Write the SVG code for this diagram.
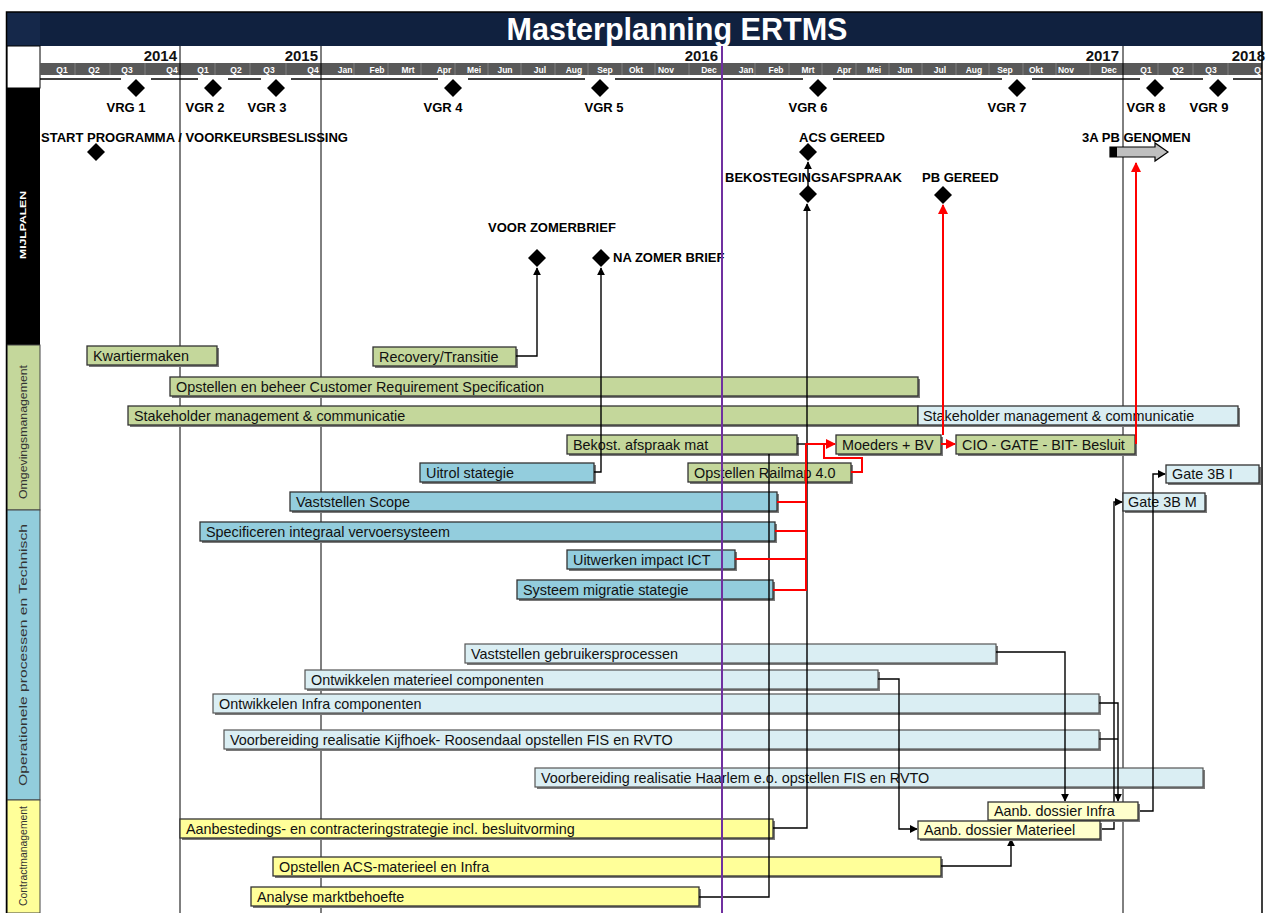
<svg xmlns="http://www.w3.org/2000/svg" width="1267" height="913" viewBox="0 0 1267 913">
<defs>
<style>
.bg{fill:#ffffff}
.bar rect.s{fill:#7a7a7a}
.bar text{font-family:"Liberation Sans",Arial,sans-serif;font-size:14.4px;fill:#111}
.g rect.f{fill:#c4d79b;stroke:#333;stroke-width:1.3}
.b rect.f{fill:#93cddd;stroke:#333;stroke-width:1.3}
.l rect.f{fill:#daeef3;stroke:#555;stroke-width:1.2}
.c rect.f{fill:#daeef3;stroke:#333;stroke-width:1.3}
.y rect.f{fill:#ffff99;stroke:#333;stroke-width:1.3}
.cr rect.f{fill:#ffffcc;stroke:#333;stroke-width:1.3}
.ms text{font-family:"Liberation Sans",Arial,sans-serif;font-weight:bold;font-size:13px;fill:#000}
.dia{fill:#000}
.mon{font-family:"Liberation Sans",Arial,sans-serif;font-weight:bold;font-size:8.5px;fill:#fff;text-anchor:middle}
.yr{font-family:"Liberation Sans",Arial,sans-serif;font-weight:bold;font-size:15px;fill:#111;text-anchor:end}
.lane{font-family:"Liberation Sans",Arial,sans-serif;font-size:11.5px;fill:#333;text-anchor:middle}
.k{fill:none;stroke:#000;stroke-width:1.4}
.r{fill:none;stroke:#ff0000;stroke-width:2}
.grid{stroke:#000;stroke-width:1}
.sep{stroke:#8a8a8a;stroke-width:0.8}
</style>
<marker id="ak" viewBox="0 0 10 10" refX="9" refY="5" markerWidth="8" markerHeight="8" orient="auto" markerUnits="userSpaceOnUse"><path d="M0,0 L10,5 L0,10 z" fill="#000"/></marker>
<marker id="ar" viewBox="0 0 10 10" refX="9" refY="5" markerWidth="10" markerHeight="10" orient="auto" markerUnits="userSpaceOnUse"><path d="M0,0 L10,5 L0,10 z" fill="#ff0000"/></marker>
</defs>

<rect class="bg" x="0" y="0" width="1267" height="913"/>

<!-- header -->
<g id="header">
<rect x="6" y="12" width="1256" height="34" fill="#10213f"/>
<rect x="6" y="12" width="34" height="34" fill="#15284a"/>
<text x="677" y="40" text-anchor="middle" font-family="Liberation Sans, Arial, sans-serif" font-weight="bold" font-size="31" fill="#ffffff" textLength="341" lengthAdjust="spacingAndGlyphs">Masterplanning ERTMS</text>
</g>

<!-- lanes -->
<g id="lanes">
<rect x="7" y="46" width="33" height="42" fill="#fff" stroke="#000" stroke-width="1"/>
<rect x="7" y="88" width="33" height="257" fill="#000"/>
<rect x="7" y="345" width="33" height="165" fill="#c4d79b" stroke="#444" stroke-width="1"/>
<rect x="7" y="510" width="33" height="290" fill="#92cddc" stroke="#444" stroke-width="1"/>
<rect x="7" y="800" width="33" height="113" fill="#ffff99" stroke="#444" stroke-width="1"/>
<text class="lane" transform="translate(26,225) rotate(-90)" style="fill:#fff;font-weight:bold;font-size:9px" textLength="68" lengthAdjust="spacingAndGlyphs">MIJLPALEN</text>
<text class="lane" transform="translate(27,432) rotate(-90)" textLength="134" lengthAdjust="spacingAndGlyphs">Omgevingsmanagement</text>
<text class="lane" transform="translate(27,655) rotate(-90)" textLength="262" lengthAdjust="spacingAndGlyphs">Operationele processen en Technisch</text>
<text class="lane" transform="translate(27,856) rotate(-90)" textLength="100" lengthAdjust="spacingAndGlyphs">Contractmanagement</text>
</g>

<!-- timeline -->
<g id="timeline">
<rect x="40" y="63" width="1222" height="12" fill="#595959"/>
<g class="sep">
<line x1="75" y1="63" x2="75" y2="75"/><line x1="110" y1="63" x2="110" y2="75"/><line x1="145" y1="63" x2="145" y2="75"/>
<line x1="215" y1="63" x2="215" y2="75"/><line x1="250" y1="63" x2="250" y2="75"/><line x1="286" y1="63" x2="286" y2="75"/>
<line x1="354" y1="63" x2="354" y2="75"/><line x1="388" y1="63" x2="388" y2="75"/><line x1="421" y1="63" x2="421" y2="75"/><line x1="455" y1="63" x2="455" y2="75"/><line x1="488" y1="63" x2="488" y2="75"/><line x1="521" y1="63" x2="521" y2="75"/><line x1="555" y1="63" x2="555" y2="75"/><line x1="588" y1="63" x2="588" y2="75"/><line x1="622" y1="63" x2="622" y2="75"/><line x1="655" y1="63" x2="655" y2="75"/><line x1="689" y1="63" x2="689" y2="75"/>
<line x1="755" y1="63" x2="755" y2="75"/><line x1="789" y1="63" x2="789" y2="75"/><line x1="822" y1="63" x2="822" y2="75"/><line x1="856" y1="63" x2="856" y2="75"/><line x1="889" y1="63" x2="889" y2="75"/><line x1="922" y1="63" x2="922" y2="75"/><line x1="956" y1="63" x2="956" y2="75"/><line x1="989" y1="63" x2="989" y2="75"/><line x1="1023" y1="63" x2="1023" y2="75"/><line x1="1056" y1="63" x2="1056" y2="75"/><line x1="1090" y1="63" x2="1090" y2="75"/>
<line x1="1158" y1="63" x2="1158" y2="75"/><line x1="1193" y1="63" x2="1193" y2="75"/><line x1="1228" y1="63" x2="1228" y2="75"/>
</g>
<g>
<text class="mon" x="62" y="72.5">Q1</text><text class="mon" x="94" y="72.5">Q2</text><text class="mon" x="127" y="72.5">Q3</text><text class="mon" x="172" y="72.5">Q4</text>
<text class="mon" x="203" y="72.5">Q1</text><text class="mon" x="236" y="72.5">Q2</text><text class="mon" x="269" y="72.5">Q3</text><text class="mon" x="313" y="72.5">Q4</text>
<text class="mon" x="345" y="72.5">Jan</text><text class="mon" x="377" y="72.5">Feb</text><text class="mon" x="408" y="72.5">Mrt</text><text class="mon" x="444" y="72.5">Apr</text><text class="mon" x="474" y="72.5">Mei</text><text class="mon" x="505" y="72.5">Jun</text><text class="mon" x="540" y="72.5">Jul</text><text class="mon" x="574" y="72.5">Aug</text><text class="mon" x="605" y="72.5">Sep</text><text class="mon" x="636" y="72.5">Okt</text><text class="mon" x="666" y="72.5">Nov</text><text class="mon" x="709" y="72.5">Dec</text>
<text class="mon" x="746" y="72.5">Jan</text><text class="mon" x="776" y="72.5">Feb</text><text class="mon" x="808" y="72.5">Mrt</text><text class="mon" x="844" y="72.5">Apr</text><text class="mon" x="874" y="72.5">Mei</text><text class="mon" x="905" y="72.5">Jun</text><text class="mon" x="940" y="72.5">Jul</text><text class="mon" x="974" y="72.5">Aug</text><text class="mon" x="1005" y="72.5">Sep</text><text class="mon" x="1036" y="72.5">Okt</text><text class="mon" x="1066" y="72.5">Nov</text><text class="mon" x="1109" y="72.5">Dec</text>
<text class="mon" x="1146" y="72.5">Q1</text><text class="mon" x="1178" y="72.5">Q2</text><text class="mon" x="1211" y="72.5">Q3</text><text class="mon" x="1260" y="72.5">Q4</text>
</g>
<text class="yr" x="177" y="61">2014</text>
<text class="yr" x="318" y="61">2015</text>
<text class="yr" x="718" y="61">2016</text>
<text class="yr" x="1119" y="61">2017</text>
<text class="yr" x="1265" y="61">2018</text>
<line x1="40" y1="79" x2="1262" y2="79" stroke="#000" stroke-width="1.5"/>
<line class="grid" x1="180" y1="46" x2="180" y2="913"/>
<line class="grid" x1="321" y1="46" x2="321" y2="913"/>
<line class="grid" x1="1123" y1="46" x2="1123" y2="913"/>
</g>

<!-- milestones -->
<g id="vgr" class="ms">
<g fill="#fff"><rect x="121" y="76" width="30" height="6"/><rect x="198" y="76" width="30" height="6"/><rect x="261" y="76" width="30" height="6"/><rect x="438" y="76" width="30" height="6"/><rect x="585" y="76" width="30" height="6"/><rect x="803" y="76" width="30" height="6"/><rect x="1002" y="76" width="30" height="6"/><rect x="1140" y="76" width="30" height="6"/><rect x="1203" y="76" width="30" height="6"/></g>
<g id="vrg1"><path class="dia" d="M136,79 L145,88 L136,97 L127,88 z"/><text x="126" y="112" text-anchor="middle">VRG 1</text></g>
<g id="vgr2"><path class="dia" d="M213,79 L222,88 L213,97 L204,88 z"/><text x="205" y="112" text-anchor="middle">VGR 2</text></g>
<g id="vgr3"><path class="dia" d="M276,79 L285,88 L276,97 L267,88 z"/><text x="267" y="112" text-anchor="middle">VGR 3</text></g>
<g id="vgr4"><path class="dia" d="M453,79 L462,88 L453,97 L444,88 z"/><text x="443" y="112" text-anchor="middle">VGR 4</text></g>
<g id="vgr5"><path class="dia" d="M600,79 L609,88 L600,97 L591,88 z"/><text x="604" y="112" text-anchor="middle">VGR 5</text></g>
<g id="vgr6"><path class="dia" d="M818,79 L827,88 L818,97 L809,88 z"/><text x="808" y="112" text-anchor="middle">VGR 6</text></g>
<g id="vgr7"><path class="dia" d="M1017,79 L1026,88 L1017,97 L1008,88 z"/><text x="1007" y="112" text-anchor="middle">VGR 7</text></g>
<g id="vgr8"><path class="dia" d="M1155,79 L1164,88 L1155,97 L1146,88 z"/><text x="1146" y="112" text-anchor="middle">VGR 8</text></g>
<g id="vgr9"><path class="dia" d="M1218,79 L1227,88 L1218,97 L1209,88 z"/><text x="1209" y="112" text-anchor="middle">VGR 9</text></g>
</g>
<g id="ms-start" class="ms"><text x="41" y="142">START PROGRAMMA /  VOORKEURSBESLISSING</text><path class="dia" d="M96,143 L105,152 L96,161 L87,152 z"/></g>
<g id="ms-acs" class="ms"><text x="799" y="142">ACS GEREED</text><path class="dia" d="M808,143 L817,152 L808,161 L799,152 z"/></g>
<g id="ms-3a" class="ms"><text x="1082" y="142">3A PB GENOMEN</text>
<path d="M1110,147 H1155 V143 L1168,152 L1155,161 V157 H1110 z" fill="#bfbfbf" stroke="#000" stroke-width="1.2"/>
<rect x="1110" y="147" width="7" height="10" fill="#000"/></g>
<g id="ms-bekost" class="ms"><text x="725" y="182">BEKOSTEGINGSAFSPRAAK</text><path class="dia" d="M808,185 L817,194 L808,203 L799,194 z"/></g>
<g id="ms-pb" class="ms"><text x="922" y="182">PB GEREED</text><path class="dia" d="M943,186 L952,195 L943,204 L934,195 z"/></g>
<g id="ms-voor" class="ms"><text x="488" y="232">VOOR ZOMERBRIEF</text><path class="dia" d="M537,249 L546,258 L537,267 L528,258 z"/></g>
<g id="ms-na" class="ms"><text x="613" y="262">NA ZOMER BRIEF</text><path class="dia" d="M601,249 L610,258 L601,267 L592,258 z"/></g>

<!-- bars -->
<g id="kwartiermaken" class="bar g"><rect class="s" x="89" y="348" width="130" height="19"/><rect class="f" x="87" y="346" width="130" height="19"/><text x="93" y="360.5">Kwartiermaken</text></g>
<g id="recovery" class="bar g"><rect class="s" x="375" y="349" width="143" height="19"/><rect class="f" x="373" y="347" width="143" height="19"/><text x="379" y="361.5">Recovery/Transitie</text></g>
<g id="crs" class="bar g"><rect class="s" x="172" y="379" width="748" height="19"/><rect class="f" x="170" y="377" width="748" height="19"/><text x="176" y="391.5">Opstellen en beheer Customer Requirement Specification</text></g>
<g id="stakeholder1" class="bar g"><rect class="s" x="130" y="408" width="790" height="19"/><rect class="f" x="128" y="406" width="790" height="19"/><text x="134" y="420.5">Stakeholder management &amp; communicatie</text></g>
<g id="stakeholder2" class="bar c"><rect class="s" x="920" y="408" width="320" height="19"/><rect class="f" x="918" y="406" width="320" height="19"/><text x="923" y="420.5">Stakeholder management &amp; communicatie</text></g>
<g id="bekost" class="bar g"><rect class="s" x="569" y="437" width="230" height="19"/><rect class="f" x="567" y="435" width="230" height="19"/><text x="573" y="449.5">Bekost. afspraak mat</text></g>
<g id="moeders" class="bar g"><rect class="s" x="838" y="437" width="105" height="19"/><rect class="f" x="836" y="435" width="105" height="19"/><text x="842" y="449.5">Moeders + BV</text></g>
<g id="cio" class="bar g"><rect class="s" x="958" y="437" width="179" height="19"/><rect class="f" x="956" y="435" width="179" height="19"/><text x="962" y="449.5">CIO - GATE - BIT- Besluit</text></g>
<g id="railmap" class="bar g"><rect class="s" x="690" y="465" width="163" height="19"/><rect class="f" x="688" y="463" width="163" height="19"/><text x="694" y="477.5">Opstellen Railmap 4.0</text></g>
<g id="uitrol" class="bar b"><rect class="s" x="422" y="465" width="174" height="19"/><rect class="f" x="420" y="463" width="174" height="19"/><text x="426" y="477.5">Uitrol stategie</text></g>
<g id="scope" class="bar b"><rect class="s" x="292" y="494" width="487" height="19"/><rect class="f" x="290" y="492" width="487" height="19"/><text x="296" y="506.5">Vaststellen Scope</text></g>
<g id="specificeren" class="bar b"><rect class="s" x="202" y="524" width="575" height="19"/><rect class="f" x="200" y="522" width="575" height="19"/><text x="206" y="536.5">Specificeren integraal vervoersysteem</text></g>
<g id="ict" class="bar b"><rect class="s" x="569" y="552" width="168" height="19"/><rect class="f" x="567" y="550" width="168" height="19"/><text x="573" y="564.5">Uitwerken impact ICT</text></g>
<g id="migratie" class="bar b"><rect class="s" x="519" y="582" width="256" height="19"/><rect class="f" x="517" y="580" width="256" height="19"/><text x="523" y="594.5">Systeem migratie stategie</text></g>
<g id="gate3bi" class="bar c"><rect class="s" x="1168" y="467" width="93" height="18"/><rect class="f" x="1166" y="465" width="93" height="18"/><text x="1172" y="479">Gate 3B I</text></g>
<g id="gate3bm" class="bar c"><rect class="s" x="1125" y="495" width="82" height="18"/><rect class="f" x="1123" y="493" width="82" height="18"/><text x="1128" y="507">Gate 3B M</text></g>
<g id="gebruikers" class="bar l"><rect class="s" x="467" y="646" width="531" height="19"/><rect class="f" x="465" y="644" width="531" height="19"/><text x="471" y="658.5">Vaststellen gebruikersprocessen</text></g>
<g id="materieel" class="bar l"><rect class="s" x="307" y="672" width="573" height="19"/><rect class="f" x="305" y="670" width="573" height="19"/><text x="311" y="684.5">Ontwikkelen materieel componenten</text></g>
<g id="infra" class="bar l"><rect class="s" x="215" y="696" width="886" height="19"/><rect class="f" x="213" y="694" width="886" height="19"/><text x="219" y="708.5">Ontwikkelen Infra componenten</text></g>
<g id="kijfhoek" class="bar l"><rect class="s" x="226" y="732" width="875" height="19"/><rect class="f" x="224" y="730" width="875" height="19"/><text x="230" y="744.5">Voorbereiding realisatie Kijfhoek- Roosendaal opstellen FIS en RVTO</text></g>
<g id="haarlem" class="bar l"><rect class="s" x="537" y="770" width="668" height="19"/><rect class="f" x="535" y="768" width="668" height="19"/><text x="541" y="782.5">Voorbereiding realisatie Haarlem e.o. opstellen FIS en RVTO</text></g>
<g id="aanbesteding" class="bar y"><rect class="s" x="182" y="821" width="593" height="19"/><rect class="f" x="180" y="819" width="593" height="19"/><text x="186" y="833.5">Aanbestedings- en contracteringstrategie incl. besluitvorming</text></g>
<g id="acs-materieel" class="bar y"><rect class="s" x="275" y="859" width="668" height="19"/><rect class="f" x="273" y="857" width="668" height="19"/><text x="279" y="871.5">Opstellen ACS-materieel en Infra</text></g>
<g id="analyse" class="bar y"><rect class="s" x="253" y="889" width="448" height="19"/><rect class="f" x="251" y="887" width="448" height="19"/><text x="257" y="901.5">Analyse marktbehoefte</text></g>

<!-- connectors -->
<g id="connectors">
<path class="k" d="M808,186 V162" marker-end="url(#ak)"/>
<path class="k" d="M773,828 H807 V204" marker-end="url(#ak)"/>
<path class="k" d="M797,444 H807"/>
<path class="k" d="M516,356 H537 V268" marker-end="url(#ak)"/>
<path class="k" d="M594,472 H601 V268" marker-end="url(#ak)"/>
<path class="k" d="M699,897 H769 V454"/>
<path class="k" d="M996,652 H1065 V801" marker-end="url(#ak)"/>
<path class="k" d="M878,679 H899 V829 H917" marker-end="url(#ak)"/>
<path class="k" d="M941,866 H1011 V839" marker-end="url(#ak)"/>
<path class="k" d="M1099,703 H1118 V801" marker-end="url(#ak)"/>
<path class="k" d="M1099,739 H1118"/>
<path class="k" d="M1101,829 H1114 V502 H1122" marker-end="url(#ak)"/>
<path class="k" d="M1139,811 H1153 V474 H1165" marker-end="url(#ak)"/>
<path class="r" d="M777,502 H806"/>
<path class="r" d="M775,531 H806"/>
<path class="r" d="M735,559 H806"/>
<path class="r" d="M773,590 H806 V444 H835" marker-end="url(#ar)"/>
<path class="r" d="M851,472 H862 V458 H824 V444"/>
<path class="r" d="M941,444 H955" marker-end="url(#ar)"/>
<path class="r" d="M943,435 V205" marker-end="url(#ar)"/>
<path class="r" d="M1136,444 V163" marker-end="url(#ar)"/>
</g>

<g id="dossier-infra" class="bar cr"><rect class="s" x="990" y="804" width="150" height="18"/><rect class="f" x="988" y="802" width="150" height="18"/><text x="994" y="816">Aanb. dossier Infra</text></g>
<g id="dossier-materieel" class="bar cr"><rect class="s" x="920" y="823" width="182" height="18"/><rect class="f" x="918" y="821" width="182" height="18"/><text x="924" y="835">Aanb. dossier Materieel</text></g>

<line x1="722" y1="46" x2="722" y2="913" stroke="#7030a0" stroke-width="2"/>
<rect x="6.5" y="12" width="1255.5" height="902" fill="none" stroke="#000" stroke-width="1.5"/>
</svg>
